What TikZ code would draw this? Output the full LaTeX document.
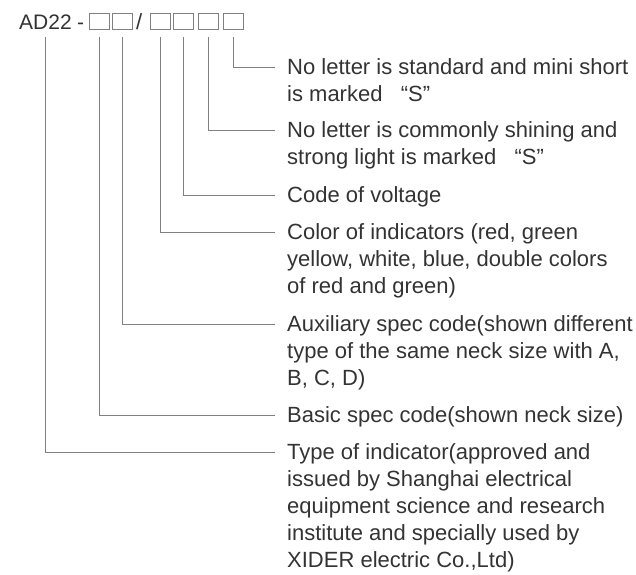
\documentclass[tikz,border=0pt]{standalone}
\usepackage{fontspec}
\setmainfont{Liberation Sans}
\definecolor{ink}{HTML}{333333}
\definecolor{wire}{HTML}{808080}
\newcommand\stack[1]{\begin{tabular}[t]{@{}l@{}}#1\end{tabular}}

\begin{document}
\begin{tikzpicture}[x=1pt,y=-1pt,
  slot/.style={draw=wire,line width=.8pt,minimum width=20pt,minimum height=16pt,inner sep=0pt},
  lbl/.style={anchor=base west,inner sep=0pt,text=ink,font=\fontsize{22}{27}\selectfont},
  lead/.style={draw=wire,line width=.8pt,shorten <=8pt}]
\useasboundingbox (0,0) rectangle (636,574);

\node[lbl,font=\fontsize{21}{27}\selectfont] (code) at (19,29) {AD22};
\node[lbl,font=\fontsize{21}{27}\selectfont] (dash) at (77,29) {-};
\node[slot] (b1) at (99,21) {};
\node[slot] (b2) at (122,21) {};
\node[lbl] (sl) at (136,29) {/};
\node[slot] (b3) at (160,21) {};
\node[slot] (b4) at (183,21) {};
\node[slot] (b5) at (208,21) {};
\node[slot] (b6) at (233,21) {};

\node[lbl] (l1) at (287,74) {\stack{No letter is standard and mini short\\is marked \ \ “S”}};
\node[lbl] (l2) at (287,137) {\stack{No letter is commonly shining and\\strong light is marked \ \ “S”}};
\node[lbl] (l3) at (287,202) {Code of voltage};
\node[lbl] (l4) at (287,239) {\stack{Color of indicators (red, green\\yellow, white, blue, double colors\\of red and green)}};
\node[lbl] (l5) at (287,331) {\stack{Auxiliary spec code(shown different\\type of the same neck size with A,\\B, C, D)}};
\node[lbl] (l6) at (287,422) {Basic spec code(shown neck size)};
\node[lbl] (l7) at (287,459) {\stack{Type of indicator(approved and\\issued by Shanghai electrical\\equipment science and research\\institute and specially used by\\XIDER electric Co.,Ltd)}};

\draw[lead] (b6.south) |- ([xshift=-12pt,yshift=7pt]l1.base west);
\draw[lead] (b5.south) |- ([xshift=-12pt,yshift=7pt]l2.base west);
\draw[lead] (b4.south) |- ([xshift=-12pt,yshift=7pt]l3.base west);
\draw[lead] (b3.south) |- ([xshift=-12pt,yshift=7pt]l4.base west);
\draw[lead] (b2.south) |- ([xshift=-12pt,yshift=7pt]l5.base west);
\draw[lead] (b1.south) |- ([xshift=-12pt,yshift=7pt]l6.base west);
\draw[lead] (code.south) |- ([xshift=-12pt,yshift=7pt]l7.base west);
\end{tikzpicture}
\end{document}
